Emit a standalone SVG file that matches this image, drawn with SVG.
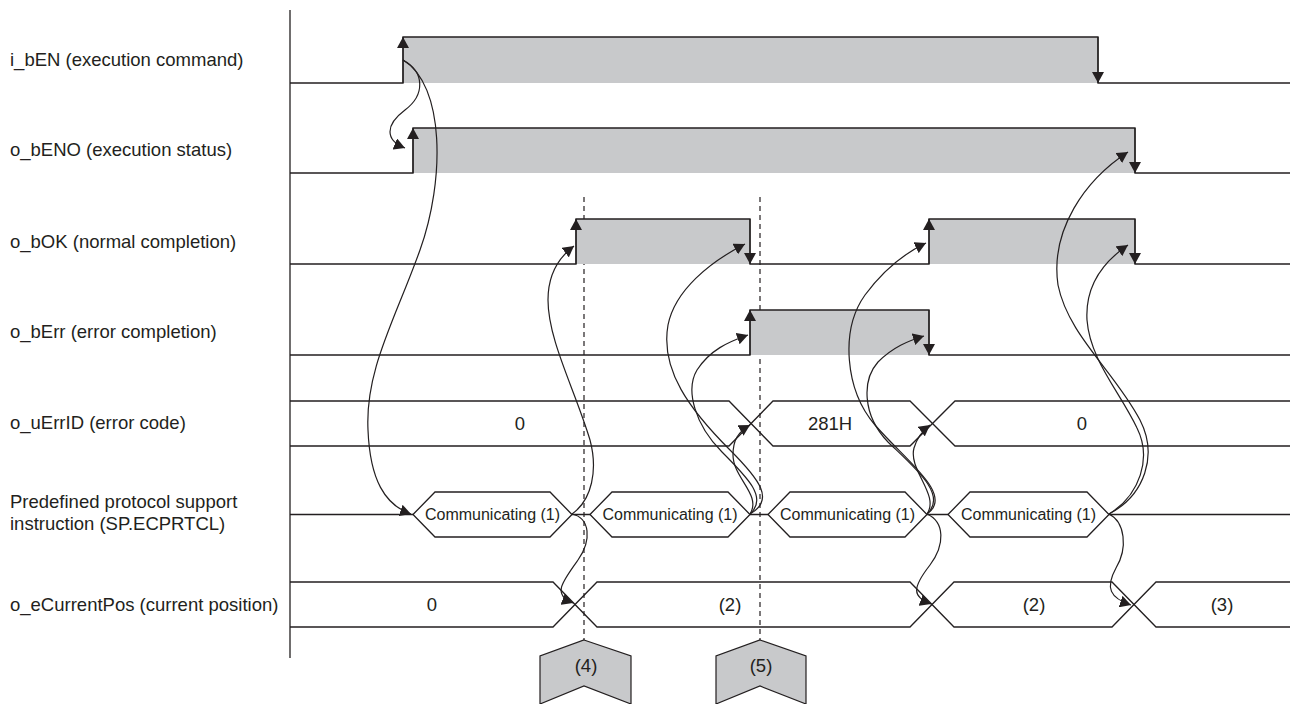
<svg xmlns="http://www.w3.org/2000/svg" width="1294" height="704" viewBox="0 0 1294 704">
  <style>
    .sig { fill: none; stroke: #231f20; stroke-width: 1.3; }
    .hi { fill: #c8c9cb; stroke: none; }
    .edge { fill: none; stroke: #231f20; stroke-width: 1.3; marker-end: url(#ah); }
    .cur { fill: none; stroke: #231f20; stroke-width: 1.2; marker-end: url(#ah); }
    .dash { fill: none; stroke: #231f20; stroke-width: 1.2; stroke-dasharray: 5 4; }
    .lbl { font-family: "Liberation Sans", Arial, sans-serif; font-size: 18.5px; fill: #231f20; }
    .val { font-family: "Liberation Sans", Arial, sans-serif; font-size: 18.5px; fill: #231f20; text-anchor: middle; }
    .hx { font-family: "Liberation Sans", Arial, sans-serif; font-size: 16px; fill: #231f20; text-anchor: middle; }
    .chev { fill: #c8c9cb; stroke: #231f20; stroke-width: 1.2; }
  </style>
  <defs>
    <marker id="ah" viewBox="0 0 11 12" refX="11" refY="6" markerWidth="11" markerHeight="12" markerUnits="userSpaceOnUse" orient="auto">
      <path d="M0,0 L11,6 L0,12 z" fill="#231f20"/>
    </marker>
  </defs>
  <rect width="1294" height="704" fill="#ffffff"/>

  <!-- signal names -->
  <g id="labels">
    <text class="lbl" x="10" y="66">i_bEN (execution command)</text>
    <text class="lbl" x="10" y="156">o_bENO (execution status)</text>
    <text class="lbl" x="10" y="248">o_bOK (normal completion)</text>
    <text class="lbl" x="10" y="338">o_bErr (error completion)</text>
    <text class="lbl" x="10" y="429">o_uErrID (error code)</text>
    <text class="lbl" x="10" y="508">Predefined protocol support</text>
    <text class="lbl" x="10" y="530">instruction (SP.ECPRTCL)</text>
    <text class="lbl" x="10" y="611">o_eCurrentPos (current position)</text>
  </g>

  <!-- time axis -->
  <path id="axis" class="sig" d="M290,10 V658"/>

  <!-- timing marks -->
  <g id="marks">
    <path class="dash" d="M584,197 V640"/>
    <path class="dash" d="M760,197 V640"/>
  </g>

  <g id="sig-i_bEN">
    <rect class="hi" x="403" y="37" width="695" height="46"/>
    <path class="sig" d="M290,83 H403 V37 H1098 V83 H1290"/>
    <path class="edge" d="M403,83 V37"/>
    <path class="edge" d="M1098,37 V83"/>
  </g>

  <g id="sig-o_bENO">
    <rect class="hi" x="413" y="128" width="722" height="45"/>
    <path class="sig" d="M290,173 H413 V128 H1135 V173 H1290"/>
    <path class="edge" d="M413,173 V128"/>
    <path class="edge" d="M1135,128 V173"/>
  </g>

  <g id="sig-o_bOK">
    <rect class="hi" x="576" y="219" width="174" height="45"/>
    <rect class="hi" x="929" y="219" width="206" height="45"/>
    <path class="sig" d="M290,264 H576 V219 H750 V264 H929 V219 H1135 V264 H1290"/>
    <path class="edge" d="M576,264 V219"/>
    <path class="edge" d="M750,219 V264"/>
    <path class="edge" d="M929,264 V219"/>
    <path class="edge" d="M1135,219 V264"/>
  </g>

  <g id="sig-o_bErr">
    <rect class="hi" x="750" y="310" width="179" height="45"/>
    <path class="sig" d="M290,355 H750 V310 H929 V355 H1290"/>
    <path class="edge" d="M750,355 V310"/>
    <path class="edge" d="M929,310 V355"/>
  </g>

  <g id="bus-o_uErrID">
    <path class="sig" d="M290,401 H729 L773,446 H910 L955,401 H1290"/>
    <path class="sig" d="M290,446 H729 L773,401 H910 L955,446 H1290"/>
    <text class="val" x="520" y="430">0</text>
    <text class="val" x="830" y="430">281H</text>
    <text class="val" x="1082" y="430">0</text>
  </g>

  <g id="sig-SP_ECPRTCL">
    <path class="sig" d="M290,514.5 H413 M572,514.5 H590 M750,514.5 H768 M927,514.5 H948 M1109,514.5 H1290"/>
    <path class="sig" d="M413,514.5 L435,492 H550 L572,514.5 L550,537 H435 Z"/>
    <path class="sig" d="M590,514.5 L612,492 H728 L750,514.5 L728,537 H612 Z"/>
    <path class="sig" d="M768,514.5 L790,492 H905 L927,514.5 L905,537 H790 Z"/>
    <path class="sig" d="M948,514.5 L970,492 H1087 L1109,514.5 L1087,537 H970 Z"/>
    <text class="hx" x="492.5" y="520">Communicating (1)</text>
    <text class="hx" x="670" y="520">Communicating (1)</text>
    <text class="hx" x="847.5" y="520">Communicating (1)</text>
    <text class="hx" x="1028.5" y="520">Communicating (1)</text>
  </g>

  <g id="bus-o_eCurrentPos">
    <path class="sig" d="M290,582 H553 L597,627 H910 L954,582 H1112 L1156,627 H1290"/>
    <path class="sig" d="M290,627 H553 L597,582 H910 L954,627 H1112 L1156,582 H1290"/>
    <text class="val" x="432" y="611">0</text>
    <text class="val" x="730" y="611">(2)</text>
    <text class="val" x="1034" y="611">(2)</text>
    <text class="val" x="1222" y="611">(3)</text>
  </g>

  <g id="tag-4">
    <path class="chev" d="M584,640 L631,656 V704 L584,686 L540,704 V656 Z"/>
    <text class="val" x="586" y="672">(4)</text>
  </g>
  <g id="tag-5">
    <path class="chev" d="M760,640 L806,656 V704 L760,686 L716,704 V656 Z"/>
    <text class="val" x="761" y="672">(5)</text>
  </g>

  <!-- cause/effect connectors -->
  <g id="connectors">
    <path class="cur" d="M403,60 C425,72 425,95 405,110 C385,125 385,140 405,148"/>
    <path class="cur" d="M403,60 C445,85 445,180 420,250 C395,320 365,370 368,430 C370,480 385,505 411,514"/>
    <path class="cur" d="M572,514 C592,500 598,470 590,440 C575,390 548,340 548,300 C548,275 558,258 574,246"/>
    <path class="cur" d="M572,514 C590,518 592,540 578,560 C562,582 552,595 573,603"/>
    <path class="cur" d="M750,514 C775,500 760,480 730,450 C690,410 660,370 668,325 C675,290 710,262 745,244"/>
    <path class="cur" d="M750,514 C768,498 748,478 722,452 C695,425 685,390 697,370 C710,350 728,342 748,335"/>
    <path class="cur" d="M750,514 C762,495 733,478 733,455 C733,440 738,432 750,425"/>
    <path class="cur" d="M927,514 C955,495 905,460 875,425 C845,390 840,330 865,295 C885,268 905,253 926,243"/>
    <path class="cur" d="M927,514 C948,495 915,468 888,442 C862,415 862,380 878,362 C893,347 908,341 924,336"/>
    <path class="cur" d="M927,514 C940,495 908,470 914,448 C917,438 922,431 930,425"/>
    <path class="cur" d="M927,514 C945,522 945,545 930,565 C912,588 912,597 931,604"/>
    <path class="cur" d="M1109,514 C1145,495 1158,455 1140,420 C1115,372 1068,335 1058,285 C1050,230 1085,180 1128,152"/>
    <path class="cur" d="M1109,514 C1140,495 1152,458 1137,428 C1120,392 1090,360 1087,320 C1085,285 1103,262 1128,245"/>
    <path class="cur" d="M1109,514 C1125,522 1128,548 1116,568 C1105,588 1110,598 1131,605"/>
  </g>
</svg>
